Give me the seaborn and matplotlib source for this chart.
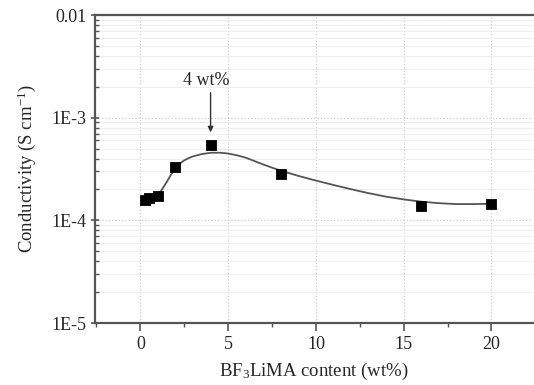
import numpy as np
import pandas as pd
import matplotlib
matplotlib.use("Agg")
import matplotlib.pyplot as plt
import matplotlib.ticker as mticker
import seaborn as sns

# measured points
content = [0.25, 0.5, 1, 2, 4, 8, 16, 20]
conductivity = [1.59e-4, 1.66e-4, 1.74e-4, 3.34e-4, 5.47e-4, 2.85e-4, 1.39e-4, 1.45e-4]

# fitted curve
fit_x = [0.25, 0.5, 1.0, 1.25, 1.5, 1.75, 2.0, 2.25, 2.5, 2.75, 3.0, 3.5, 4.0, 4.5, 5, 5.5, 6, 6.5, 7,
         7.5, 8, 9, 10, 11, 12, 13, 14, 15, 16, 17, 18, 19, 20]
fit_y = [1.59e-4, 1.63e-4, 1.74e-4, 2.02e-4, 2.36e-4, 2.80e-4, 3.24e-4, 3.58e-4, 3.84e-4, 4.04e-4,
         4.20e-4, 4.42e-4, 4.55e-4, 4.56e-4, 4.48e-4, 4.30e-4, 4.08e-4, 3.78e-4, 3.50e-4,
         3.26e-4, 3.05e-4, 2.71e-4, 2.44e-4, 2.21e-4, 2.01e-4, 1.84e-4, 1.70e-4, 1.60e-4,
         1.52e-4, 1.47e-4, 1.44e-4, 1.44e-4, 1.45e-4]

y_ticks = [1e-5, 1e-4, 1e-3, 1e-2]
y_tick_labels = ["1E-5", "1E-4", "1E-3", "0.01"]
x_ticks = [0, 5, 10, 15, 20]

sns.set_style("white")
plt.rcParams['font.family'] = ['Liberation Serif', 'DejaVu Serif']
plt.rcParams['mathtext.fontset'] = 'custom'
plt.rcParams['mathtext.rm'] = 'Liberation Serif'
plt.rcParams['mathtext.it'] = 'Liberation Serif:italic'

points = pd.DataFrame({"x": content, "y": conductivity})
curve = pd.DataFrame({"x": fit_x, "y": fit_y})

fig = plt.figure(figsize=(5.34, 3.85), dpi=100)
ax = fig.add_axes([0.178, 0.161, 0.820, 0.800])

sns.lineplot(data=curve, x="x", y="y", ax=ax, color="#555555", linewidth=1.3, sort=True)
sns.scatterplot(data=points, x="x", y="y", ax=ax, marker="s", s=55, color="black",
                edgecolor="black", zorder=3)

ax.set_yscale("log")
ax.set_ylim(1e-5, 1e-2)
ax.set_xlim(-2.58, 22.36)

ax.yaxis.set_major_locator(mticker.FixedLocator(y_ticks))
ax.yaxis.set_major_formatter(mticker.FixedFormatter(y_tick_labels))
ax.yaxis.set_minor_locator(mticker.LogLocator(base=10, subs=np.arange(2, 10)))
ax.yaxis.set_minor_formatter(mticker.NullFormatter())
ax.set_xticks(x_ticks)
ax.xaxis.set_minor_locator(mticker.MultipleLocator(2.5))

ax.grid(which="major", color="#cccccc", linestyle=":", linewidth=0.9)
ax.grid(which="minor", axis="y", color="#eeeeee", linestyle="-", linewidth=0.8)

ax.tick_params(which="major", direction="inout", length=6, width=1.2, color="#555555",
               labelsize=13, left=True, bottom=True, pad=3)
ax.tick_params(which="minor", direction="in", length=3, width=1.0, color="#555555",
               left=True, bottom=True)
ax.tick_params(axis="x", which="both", direction="out")

for side in ["left", "bottom", "top"]:
    ax.spines[side].set_color("#555555")
    ax.spines[side].set_linewidth(1.6)
ax.spines["right"].set_visible(False)

ax.set_xlabel("BF$_3$LiMA content (wt%)", fontsize=13.5, labelpad=6)
ax.set_ylabel("Conductivity (S cm$^{\\mathregular{-1}}$)", fontsize=13.5, labelpad=10)

# label and vertical arrow pointing at the 4 wt% point
ax.text(3.75, 2.3e-3, "4 wt%", ha="center", va="center", fontsize=13)
ax.annotate("", xy=(4, 7.2e-4), xytext=(4, 1.75e-3),
            arrowprops=dict(arrowstyle="-|>", color="#333333", lw=1.0, shrinkA=0, shrinkB=0,
                            mutation_scale=8))

fig.savefig("out.png", dpi=100)
